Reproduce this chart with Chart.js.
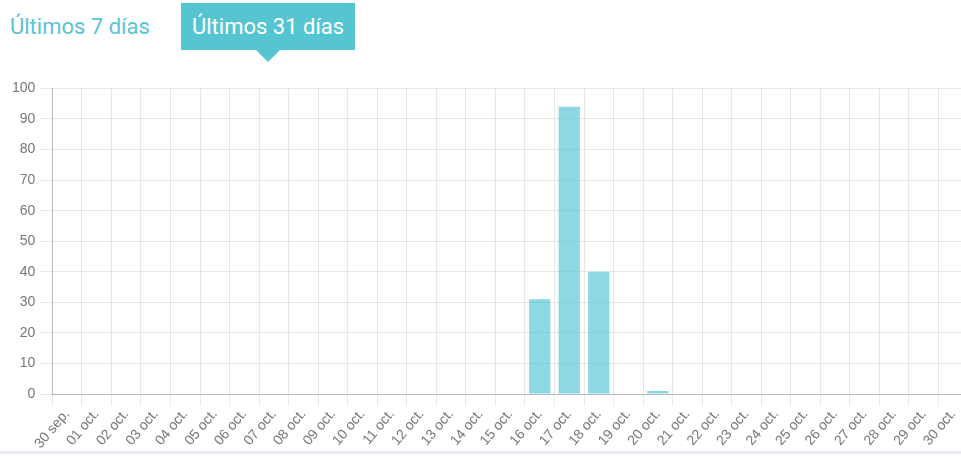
<!DOCTYPE html>
<html lang="es">

<head>
    <meta charset="UTF-8">
    <title>Últimos 31 días</title>
    <script src="https://cdn.jsdelivr.net/npm/chart.js@4.4.0/dist/chart.umd.min.js"></script>
    <style>
        body {
            margin: 0;
            background: #fff;
            font-family: Roboto, "Noto Sans", sans-serif;
            overflow: hidden;
        }

        .tabs {
            position: absolute;
            left: 0;
            top: 0;
            height: 65px;
            width: 961px;
        }

        .tab {
            position: absolute;
            font-size: 22px;
            line-height: 47px;
            color: #5ac4d2;
        }

        .tab.active {
            background: #56c5d2;
            color: #fff;
            padding: 0 11px;
        }

        .tab.active:after {
            content: "";
            position: absolute;
            left: 50%;
            bottom: -12px;
            margin-left: -12px;
            border-left: 12px solid transparent;
            border-right: 12px solid transparent;
            border-top: 12px solid #56c5d2;
        }

        .chart-box {
            position: absolute;
            left: 0;
            top: 75px;
            width: 968px;
            height: 377px;
        }

        .bottom-line {
            position: absolute;
            left: 0;
            top: 451px;
            width: 961px;
            height: 3px;
            background: #ecebf4;
        }
    </style>
</head>

<body>
    <div class="tabs">
        <div class="tab" style="left:10px; top:3px;">Últimos 7 días</div>
        <div class="tab active" style="left:181px; top:3px;">Últimos 31 días</div>
    </div>
    <div class="chart-box">
        <canvas id="myChart"></canvas>
    </div>
    <div class="bottom-line"></div>

    <script>
        // dias (30 sep. - 30 oct.)
        var labels = ["30 sep.", "01 oct.", "02 oct.", "03 oct.", "04 oct.", "05 oct.", "06 oct.", "07 oct.",
            "08 oct.", "09 oct.", "10 oct.", "11 oct.", "12 oct.", "13 oct.", "14 oct.", "15 oct.", "16 oct.",
            "17 oct.", "18 oct.", "19 oct.", "20 oct.", "21 oct.", "22 oct.", "23 oct.", "24 oct.", "25 oct.",
            "26 oct.", "27 oct.", "28 oct.", "29 oct.", "30 oct."];
        var visitas = [0, 0, 0, 0, 0, 0, 0, 0, 0, 0, 0, 0, 0, 0, 0, 0, 31, 94, 40, 0, 1, 0, 0, 0, 0, 0, 0, 0, 0, 0, 0];
        var yMax = 100;
        var yStep = 10;

        var tickFont = { family: "'Liberation Sans', Arial, sans-serif", size: 14 };

        var config = {
            type: "bar",
            data: {
                labels: labels,
                datasets: [{
                    data: visitas,
                    backgroundColor: "rgba(64,190,210,0.6)",
                    borderWidth: 0
                }]
            },
            options: {
                responsive: true,
                maintainAspectRatio: false,
                animation: false,
                layout: { padding: { right: 0, top: 2, left: 7 } },
                plugins: {
                    legend: { display: false },
                    tooltip: { enabled: false }
                },
                scales: {
                    x: {
                        grid: { color: "rgba(0,0,0,0.09)", offset: true, tickLength: 12 },
                        border: { color: "rgba(0,0,0,0.2)" },
                        ticks: { color: "#777", font: tickFont, minRotation: 50, maxRotation: 50, autoSkip: false, padding: 0 }
                    },
                    y: {
                        min: 0,
                        max: yMax,
                        grid: { color: "rgba(0,0,0,0.09)", tickLength: 12 },
                        border: { color: "rgba(0,0,0,0.2)" },
                        ticks: { color: "#777", font: tickFont, stepSize: yStep, padding: 5 }
                    }
                }
            }
        };

        window.myChart = new Chart(document.getElementById("myChart").getContext("2d"), config);
    </script>
</body>

</html>
